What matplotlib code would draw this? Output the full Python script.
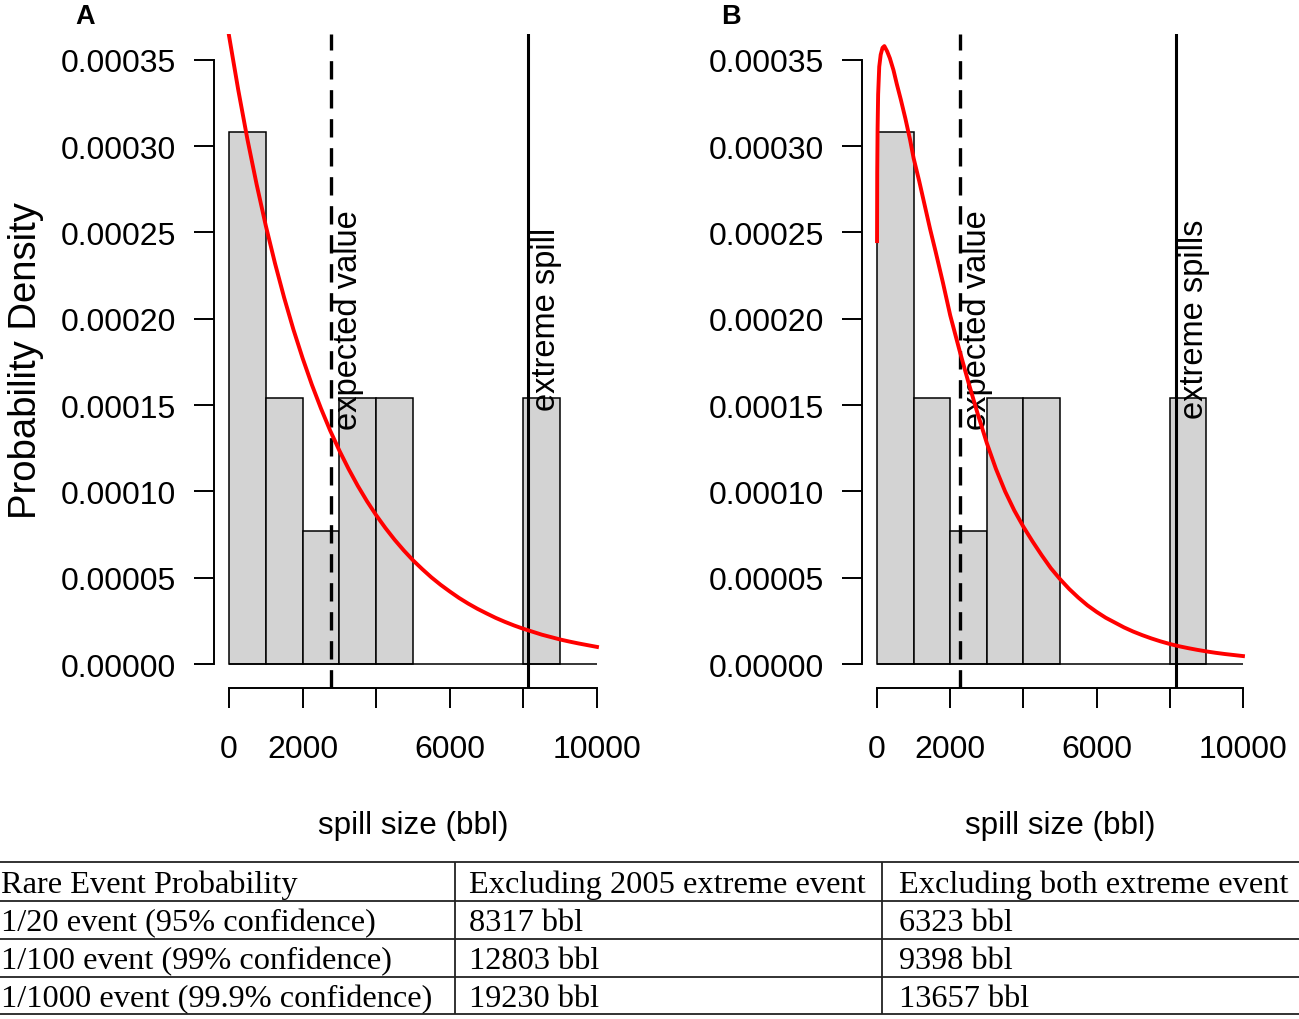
import matplotlib.pyplot as plt
import numpy as np

# ---- data ----
bin_left = [0, 1000, 2000, 3000, 4000, 8000]
bin_width = 1000
bin_density = [0.000308, 0.000154, 0.000077, 0.000154, 0.000154, 0.000154]

# fitted density curve, panel A (x in bbl, density in 1e-5)
curve_a_x = [0, 250, 500, 750, 1000, 1250, 1500, 1750, 2000, 2250, 2500, 2750,
             3000, 3250, 3500, 3750, 4000, 4250, 4500, 4750, 5000, 5250, 5500,
             5750, 6000, 6250, 6500, 6750, 7000, 7250, 7500, 7750, 8000, 8250,
             8500, 8750, 9000, 9250, 9500, 9750, 10000]
curve_a_y = [36.4, 33.27, 30.40, 27.79, 25.39, 23.21, 21.21, 19.38, 17.72, 16.19,
             14.80, 13.52, 12.36, 11.30, 10.32, 9.43, 8.62, 7.88, 7.20, 6.58,
             6.01, 5.50, 5.02, 4.59, 4.20, 3.83, 3.50, 3.20, 2.93, 2.67, 2.44,
             2.23, 2.04, 1.87, 1.70, 1.56, 1.42, 1.30, 1.19, 1.09, 0.99]

# fitted density curve, panel B (x in bbl, density in 1e-5)
curve_b_x = [0, 5, 15, 30, 60, 100, 150, 200, 275, 350, 450, 540, 650, 775, 900,
             1000, 1150, 1300, 1450, 1600, 1800, 2000, 2250, 2500, 2750, 3000,
             3250, 3500, 3750, 4000, 4250, 4500, 4750, 5000, 5250, 5500, 5750,
             6000, 6250, 6500, 6750, 7000, 7250, 7500, 7750, 8000, 8250, 8500,
             8750, 9000, 9250, 9500, 9750, 10000]
curve_b_y = [24.5, 28.5, 31.0, 33.0, 34.6, 35.3, 35.7, 35.8, 35.5, 35.1, 34.4,
             33.6, 32.7, 31.6, 30.4, 29.3, 28.0, 26.6, 25.2, 23.9, 22.1, 20.2,
             18.2, 16.3, 14.5, 12.8, 11.3, 10.0, 8.9, 7.95, 7.1, 6.3, 5.55, 4.92,
             4.35, 3.85, 3.4, 3.02, 2.68, 2.4, 2.12, 1.88, 1.67, 1.48, 1.31, 1.16,
             1.03, 0.92, 0.82, 0.73, 0.65, 0.58, 0.52, 0.46]

expected_a, extreme_a = 2770, 8130
expected_b, extreme_b = 2268, 8165

y_ticks = [0, 0.00005, 0.0001, 0.00015, 0.0002, 0.00025, 0.0003, 0.00035]
x_ticks = [0, 2000, 4000, 6000, 8000, 10000]
x_tick_labels = ['0', '2000', '', '6000', '', '10000']

table_rows = [
    ['Rare Event Probability', 'Excluding 2005 extreme event', 'Excluding both extreme event'],
    ['1/20 event (95% confidence)', '8317 bbl', '6323 bbl'],
    ['1/100 event (99% confidence)', '12803 bbl', '9398 bbl'],
    ['1/1000 event (99.9% confidence)', '19230 bbl', '13657 bbl'],
]

plt.rcParams['font.family'] = ['Liberation Sans', 'DejaVu Sans']

W, H = 1299, 1020
fig = plt.figure(figsize=(W / 100, H / 100), dpi=100)


def px_axes(x0, x1, y0, y1):
    # pixel box (top-left origin) -> figure fraction
    return fig.add_axes([x0 / W, 1 - y1 / H, (x1 - x0) / W, (y1 - y0) / H])


def panel(ax, cx, cy, expected, extreme, extreme_label, letter, letter_x, ylabel):
    ax.bar(bin_left, bin_density, width=bin_width, align='edge',
           color='#d3d3d3', edgecolor='black', linewidth=1.1, zorder=1)
    ax.hlines(0, x_ticks[0], x_ticks[-1], color='black', linewidth=1.1, zorder=2)
    ax.plot(cx, np.array(cy) * 1e-5, color='red', linewidth=2.8, zorder=4,
            solid_joinstyle='round')
    ax.axvline(expected, color='black', linewidth=2.4,
               linestyle=(0, (5.5, 3.2)), zorder=3)
    ax.axvline(extreme, color='black', linewidth=2.2, zorder=3)
    ax.annotate('expected value', xy=(expected, 0.0002), xytext=(12.5, 0),
                textcoords='offset points', rotation=90, ha='center',
                va='center', fontsize=23.5)
    ax.annotate(extreme_label, xy=(extreme, 0.0002), xytext=(13.5, 0),
                textcoords='offset points', rotation=90, ha='center',
                va='center', fontsize=23.5)

    ax.set_xlim(-400, 10400)
    ax.set_ylim(-0.0000139, 0.000365)
    for s in ['top', 'right']:
        ax.spines[s].set_visible(False)
    ax.spines['left'].set_bounds(y_ticks[0], y_ticks[-1])
    ax.spines['bottom'].set_bounds(x_ticks[0], x_ticks[-1])
    for s in ['left', 'bottom']:
        ax.spines[s].set_linewidth(1.4)
    ax.set_yticks(y_ticks)
    ax.set_yticklabels(['%.5f' % v for v in y_ticks])
    ax.set_xticks(x_ticks)
    ax.set_xticklabels(x_tick_labels)
    ax.tick_params(axis='both', direction='out', length=14.5, width=1.4,
                   labelsize=23)
    ax.tick_params(axis='y', pad=13)
    ax.tick_params(axis='x', pad=18.5)
    ax.set_xlabel('spill size (bbl)', fontsize=22.6)
    ax.xaxis.label.set_va('center')
    ax.xaxis.set_label_coords(0.5, -0.2095)
    if ylabel:
        ax.set_ylabel('Probability Density', fontsize=27.5)
        ax.yaxis.label.set_va('center')
        ax.yaxis.set_label_coords(-0.474, 0.5015)
    ax.text(letter_x, 1.028, letter, transform=ax.transAxes,
            fontsize=19.5, fontweight='bold', ha='center', va='center')


ax_a = px_axes(214.3, 611.7, 35, 689)
panel(ax_a, curve_a_x, curve_a_y, expected_a, extreme_a, 'extreme spill',
      'A', -0.325, True)

ax_b = px_axes(862.4, 1257.6, 35, 689)
panel(ax_b, curve_b_x, curve_b_y, expected_b, extreme_b, 'extreme spills',
      'B', -0.3325, False)

# ---- table below the plots ----
tab = px_axes(0, W, 0, H)
tab.set_xlim(0, W)
tab.set_ylim(H, 0)
tab.axis('off')
tab.patch.set_alpha(0)

row_lines = [863, 902, 940, 978, 1015]
col_sep = [455, 882]
col_text_x = [1, 469, 899]
for y in row_lines:
    tab.hlines(y, 0, W, color='#222222', linewidth=1.3)
for x in col_sep:
    tab.vlines(x, row_lines[0], row_lines[-1], color='#222222', linewidth=1.3)
for r, row in enumerate(table_rows):
    yc = (row_lines[r] + row_lines[r + 1]) / 2 + 3
    for c, txt in enumerate(row):
        tab.text(col_text_x[c], yc, txt, family='Liberation Serif',
                 fontsize=23.3, ha='left', va='center', clip_on=True)

fig.savefig('out.png', dpi=100)
